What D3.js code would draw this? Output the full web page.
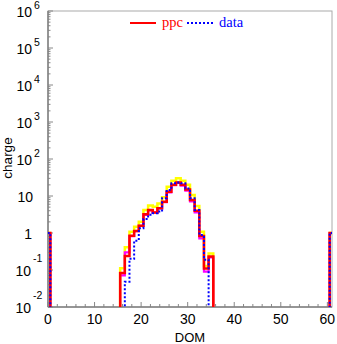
<!DOCTYPE html>
<html><head><meta charset="utf-8">
<script src="https://cdn.jsdelivr.net/npm/d3@7"></script>
<style>body{margin:0;background:#fff}svg{display:block}</style>
</head><body>
<script>
// bin centres (DOM index)
const dom      = [0, 16, 17, 18, 19, 20, 21, 22, 23, 24, 25, 26, 27, 28, 29, 30, 31, 32, 33, 34, 35, 61];
const ppc      = [1, 0.083, 0.24, 0.84, 1.14, 1.57, 3.2, 4.2, 3.6, 4.65, 7.0, 13, 20, 23, 20, 15, 7.8, 4.0, 0.83, 0.11, 0.23, 1];
const ppcUpper = [1, 0.111, 0.41, 1.08, 1.48, 2.0, 4.2, 5.5, 5.1, 6.3, 9.2, 17.8, 26, 30, 26, 20, 10.6, 5.4, 1.08, 0.128, 0.28, 1];
const ppcAlt   = [1, 0.072, 0.30, 0.82, 1.12, 1.55, 3.1, 4.1, 3.6, 4.6, 6.8, 12.5, 19.5, 22.5, 19, 14, 7.2, 3.6, 0.72, 0.09, 0.22, 1];
const data     = [1, 0, 0.048, 0.2, 0.62, 1.35, 2.4, 3.1, 3.4, 3.8, 8.7, 14.5, 22, 23, 22, 16, 8.7, 4.2, 0.88, 0.19, 0, 1];
const xTicks   = [0, 10, 20, 30, 40, 50, 60];
const yExp     = [-2, -1, 0, 1, 2, 3, 4, 5, 6];

const W = 337, H = 344;
const L = 48, R = 332, T = 11, B = 307;
const svg = d3.select("body").append("svg").attr("width", W).attr("height", H);

const x = d3.scaleLinear().domain([0, 61]).range([L, R]);
const y = d3.scaleLog().domain([1e-2, 1e6]).range([B, T]);
const base = B + 12;

svg.append("defs").append("clipPath").attr("id", "clip")
  .append("rect").attr("x", L).attr("y", T).attr("width", R - L).attr("height", B - T);

// frame
svg.append("rect").attr("x", L).attr("y", T).attr("width", R - L).attr("height", B - T)
  .attr("fill", "none").attr("stroke", "#aaa").attr("stroke-width", 1);

// y axis ticks (inside)
const yMinor = [];
for (let e = -2; e < 6; e++) for (let m = 2; m <= 9; m++) yMinor.push(m * Math.pow(10, e));
svg.append("g").selectAll("line").data(yMinor).join("line")
  .attr("x1", L).attr("x2", L + 2.5).attr("y1", d => y(d)).attr("y2", d => y(d))
  .attr("stroke", "#888").attr("stroke-width", 1);
svg.append("g").selectAll("line").data(yExp).join("line")
  .attr("x1", L).attr("x2", L + 5).attr("y1", d => y(Math.pow(10, d))).attr("y2", d => y(Math.pow(10, d)))
  .attr("stroke", "#888").attr("stroke-width", 1);

// x axis ticks (inside)
const xMinor = d3.range(0, 62, 2);
svg.append("g").selectAll("line").data(xMinor).join("line")
  .attr("x1", d => x(d)).attr("x2", d => x(d)).attr("y1", B).attr("y2", d => d % 10 === 0 ? B - 5 : B - 3)
  .attr("stroke", "#888").attr("stroke-width", 1);

// axis lines
svg.append("line").attr("x1", L).attr("x2", L).attr("y1", T).attr("y2", B).attr("stroke", "#808080").attr("stroke-width", 1.5);
svg.append("line").attr("x1", L).attr("x2", R).attr("y1", B).attr("y2", B).attr("stroke", "#808080").attr("stroke-width", 1.5);

// y tick labels
const font = "'Liberation Sans', Arial, sans-serif";
yExp.forEach(e => {
  const ty = y(Math.pow(10, e));
  if (e === 0) {
    svg.append("text").attr("x", 32).attr("y", ty + 5.5).attr("text-anchor", "end")
      .attr("font-family", font).attr("font-size", 14).text("1");
  } else if (e === 1) {
    svg.append("text").attr("x", 33).attr("y", ty + 5.5).attr("text-anchor", "end")
      .attr("font-family", font).attr("font-size", 14).text("10");
  } else {
    const neg = e < 0;
    svg.append("text").attr("x", neg ? 31 : 32).attr("y", ty + 6).attr("text-anchor", "end")
      .attr("font-family", font).attr("font-size", 14).text("10");
    svg.append("text").attr("x", neg ? 33 : 34).attr("y", neg ? ty - 8 : ty - 2.5)
      .attr("font-family", font).attr("font-size", 10.5).text(String(e));
  }
});

// x tick labels
svg.append("g").selectAll("text").data(xTicks).join("text")
  .attr("x", d => x(d)).attr("y", 324).attr("text-anchor", "middle")
  .attr("font-family", font).attr("font-size", 14).text(d => d);

// axis titles
svg.append("text").attr("x", 190).attr("y", 342).attr("text-anchor", "middle")
  .attr("font-family", font).attr("font-size", 13).text("DOM");
svg.append("text").attr("transform", "translate(12,158) rotate(-90)").attr("text-anchor", "middle")
  .attr("font-family", font).attr("font-size", 13.5).text("charge");

// histogram step paths
function stepPoints(vals) {
  const pts = [];
  dom.forEach((c, i) => {
    const yv = vals[i] > 0 ? y(vals[i]) : base;
    if (i === 0 || dom[i - 1] !== c - 1) pts.push([x(c - 0.5), base]);
    pts.push([x(c - 0.5), yv], [x(c + 0.5), yv]);
    if (i === dom.length - 1 || dom[i + 1] !== c + 1) pts.push([x(c + 0.5), base]);
  });
  return pts;
}
const line = d3.line();
const g = svg.append("g").attr("clip-path", "url(#clip)");
const series = [
  {v: ppcUpper, c: "#ffff00", w: 2.5, dash: null},
  {v: ppcAlt,   c: "#ff00ff", w: 2.2, dash: null},
  {v: ppc,      c: "#ff0000", w: 2.5, dash: null},
  {v: data,     c: "#0000ff", w: 2,   dash: "2,2"}
];
series.forEach(s => {
  g.append("path").attr("d", line(stepPoints(s.v))).attr("fill", "none")
    .attr("stroke", s.c).attr("stroke-width", s.w)
    .attr("stroke-dasharray", s.dash);
});

// legend
const serif = "'Liberation Serif', 'Times New Roman', serif";
svg.append("line").attr("x1", 130).attr("x2", 156).attr("y1", 23).attr("y2", 23)
  .attr("stroke", "#ff0000").attr("stroke-width", 2);
svg.append("text").attr("x", 162).attr("y", 27).attr("font-family", serif).attr("font-size", 14.5)
  .attr("fill", "#ff0000").text("ppc");
svg.append("line").attr("x1", 187).attr("x2", 213).attr("y1", 23).attr("y2", 23)
  .attr("stroke", "#0000ff").attr("stroke-width", 2).attr("stroke-dasharray", "2,2");
svg.append("text").attr("x", 219).attr("y", 27).attr("font-family", serif).attr("font-size", 14.5)
  .attr("fill", "#0000ff").text("data");
</script>
</body></html>
